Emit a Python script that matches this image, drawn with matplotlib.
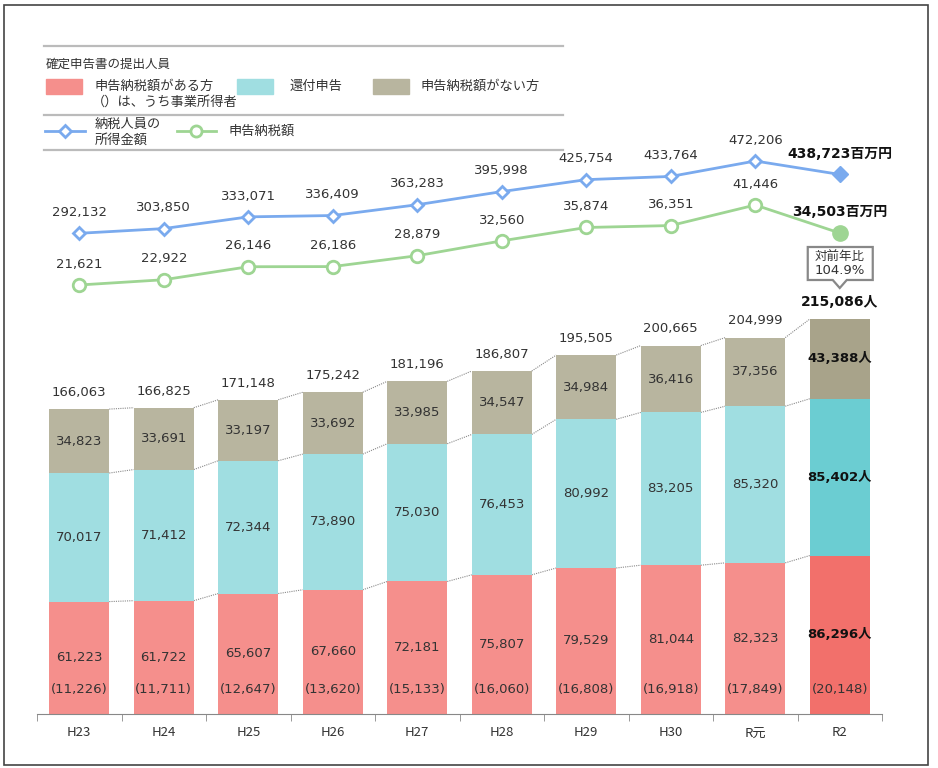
import matplotlib
matplotlib.use("Agg")
import matplotlib.pyplot as plt
from matplotlib.patches import Rectangle, Polygon
import numpy as np

# データ（単位：人／百万円）
nendo = ["H23", "H24", "H25", "H26", "H27", "H28", "H29", "H30", "R元", "R2"]
aru_kata = [61223, 61722, 65607, 67660, 72181, 75807, 79529, 81044, 82323, 86296]
jigyo = [11226, 11711, 12647, 13620, 15133, 16060, 16808, 16918, 17849, 20148]
kanpu = [70017, 71412, 72344, 73890, 75030, 76453, 80992, 83205, 85320, 85402]
nai_kata = [34823, 33691, 33197, 33692, 33985, 34547, 34984, 36416, 37356, 43388]
goukei = [166063, 166825, 171148, 175242, 181196, 186807, 195505, 200665, 204999, 215086]
shotoku = [292132, 303850, 333071, 336409, 363283, 395998, 425754, 433764, 472206, 438723]
nozei = [21621, 22922, 26146, 26186, 28879, 32560, 35874, 36351, 41446, 34503]
zennen_hi = "104.9%"

JP = ["Noto Sans CJK JP", "DejaVu Sans"]
NUM = ["DejaVu Sans", "Noto Sans CJK JP"]

W, H = 938, 768
fig = plt.figure(figsize=(W / 100, H / 100), dpi=100)

# 軸の配置（ピクセル）
x_left, x_right = 37, 882
y_base, y_top = 714, 40
pos = [x_left / W, (H - y_base) / H, (x_right - x_left) / W, (y_base - y_top) / H]

n = len(nendo)
x = np.arange(n)
w = 0.71

c_pink = ["#F58F8C"] * (n - 1) + ["#F2706B"]
c_cyan = ["#A0DEE1"] * (n - 1) + ["#6BCDD2"]
c_gray = ["#B8B59F"] * (n - 1) + ["#A8A38A"]

ax = fig.add_axes(pos)
bar_scale = 1.836 / 1000  # px per person
ax.set_ylim(0, (y_base - y_top) / bar_scale)
ax.set_xlim(-0.5, n - 0.5)

b1 = np.array(aru_kata)
b2 = b1 + np.array(kanpu)
b3 = b2 + np.array(nai_kata)
ax.bar(x, aru_kata, w, color=c_pink, zorder=2)
ax.bar(x, kanpu, w, bottom=b1, color=c_cyan, zorder=2)
ax.bar(x, nai_kata, w, bottom=b2, color=c_gray, zorder=2)

# 点線の連結
for i in range(n - 1):
    for cum in (b1, b2, b3):
        ax.plot([i + w / 2, i + 1 - w / 2], [cum[i], cum[i + 1]], ls=(0, (1, 1)),
                color="#8A8A8A", lw=0.8, zorder=1)

# 棒のラベル
for i in range(n):
    last = i == n - 1
    kw = dict(ha="center", va="center", fontsize=9.5, family=NUM,
              color="#111111" if last else "#333333",
              fontweight="bold" if last else "normal")
    suf = "人" if last else ""
    ax.text(x[i], aru_kata[i] / 2, f"{aru_kata[i]:,}{suf}", **kw)
    ax.text(x[i], b1[i] + kanpu[i] / 2, f"{kanpu[i]:,}{suf}", **kw)
    ax.text(x[i], b2[i] + nai_kata[i] / 2, f"{nai_kata[i]:,}{suf}", **kw)
    ax.annotate(f"({jigyo[i]:,})", (x[i], 0), xytext=(0, 18), textcoords="offset points",
                ha="center", va="center", fontsize=9.5, family=NUM, color="#333333")
    ax.annotate(f"{goukei[i]:,}{suf}", (x[i], goukei[i]), xytext=(0, 12),
                textcoords="offset points", ha="center", va="center",
                fontsize=10 if last else 9.5, family=NUM,
                color="#111111" if last else "#333333",
                fontweight="bold" if last else "normal")

for s in ["top", "right", "left"]:
    ax.spines[s].set_visible(False)
ax.spines["bottom"].set_color("#888888")
ax.set_yticks([])
ax.set_xticks(x)
ax.set_xticklabels(nendo, family=JP, fontsize=9.5, color="#333333")
ax.tick_params(axis="x", which="major", length=0, pad=9)
ax.set_xticks(np.arange(-0.5, n, 1), minor=True)
ax.tick_params(axis="x", which="minor", length=5, color="#888888", direction="out")


def line_axes(v_ref, y_ref, scale):
    a = fig.add_axes(pos, sharex=ax)
    a.set_ylim(v_ref - (y_base - y_ref) / scale, v_ref + (y_ref - y_top) / scale)
    a.axis("off")
    a.patch.set_visible(False)
    return a


# 納税人員の所得金額
ax_b = line_axes(472206, 161, 0.4015 / 1000)
ax_b.plot(x[:-1], shotoku[:-1], color="#7AAAEE", lw=2, marker="D", ms=6.5,
          mfc="white", mec="#7AAAEE", mew=2, zorder=3)
ax_b.plot(x[-2:], shotoku[-2:], color="#7AAAEE", lw=2, zorder=2)
ax_b.plot(x[-1], shotoku[-1], marker="D", ms=8, color="#7AAAEE", zorder=3)

# 申告納税額
ax_g = line_axes(41446, 205, 4.035 / 1000)
ax_g.plot(x[:-1], nozei[:-1], color="#9ED593", lw=2, marker="o", ms=9,
          mfc="white", mec="#9ED593", mew=2, zorder=3)
ax_g.plot(x[-2:], nozei[-2:], color="#9ED593", lw=2, zorder=2)
ax_g.plot(x[-1], nozei[-1], marker="o", ms=11, color="#9ED593", zorder=3)

for a, vals in ((ax_b, shotoku), (ax_g, nozei)):
    for i, v in enumerate(vals):
        last = i == n - 1
        a.annotate(f"{v:,}百万円" if last else f"{v:,}", (x[i], v), xytext=(0, 15),
                   textcoords="offset points", ha="center", va="center",
                   fontsize=10 if last else 9.5, family=NUM,
                   color="#111111" if last else "#333333",
                   fontweight="bold" if last else "normal")

# 凡例・枠（ピクセル座標）
ov = fig.add_axes([0, 0, 1, 1])
ov.set_xlim(0, W)
ov.set_ylim(H, 0)
ov.axis("off")
ov.patch.set_visible(False)

ov.add_patch(Rectangle((4, 5), 924, 760, fill=False, ec="#444444", lw=1.2))
for yy in (46, 115, 150):
    ov.plot([44, 563], [yy, yy], color="#BBBBBB", lw=1.6)
ov.text(46, 64, "確定申告書の提出人員", family=JP, fontsize=9, va="center", color="#333333")
ov.add_patch(Rectangle((46, 79), 36, 15, color="#F58F8C"))
ov.text(95, 86, "申告納税額がある方", family=JP, fontsize=9.5, va="center", color="#333333")
ov.text(92, 102, "（）は、うち事業所得者", family=JP, fontsize=9.5, va="center", color="#333333")
ov.add_patch(Rectangle((237, 79), 36, 15, color="#A0DEE1"))
ov.text(290, 86, "還付申告", family=JP, fontsize=9.5, va="center", color="#333333")
ov.add_patch(Rectangle((373, 79), 36, 15, color="#B8B59F"))
ov.text(420, 86, "申告納税額がない方", family=JP, fontsize=9.5, va="center", color="#333333")
ov.plot([45, 85], [131, 131], color="#7AAAEE", lw=2)
ov.plot([65], [131], marker="D", ms=6, mfc="white", mec="#7AAAEE", mew=2)
ov.text(95, 124, "納税人員の", family=JP, fontsize=9.5, va="center", color="#333333")
ov.text(95, 140, "所得金額", family=JP, fontsize=9.5, va="center", color="#333333")
ov.plot([177, 216], [131, 131], color="#9ED593", lw=2)
ov.plot([196], [131], marker="o", ms=8, mfc="white", mec="#9ED593", mew=2)
ov.text(228, 131, "申告納税額", family=JP, fontsize=9.5, va="center", color="#333333")

# 対前年比の吹き出し
cx = x_left + (x_right - x_left) * (n - 0.5) / n
bx0, bx1, by0, by1 = cx - 32, cx + 33, 247, 280
ov.add_patch(Polygon([(bx0, by0), (bx1, by0), (bx1, by1), (cx + 7, by1), (cx, by1 + 8),
                      (cx - 7, by1), (bx0, by1)], closed=True, fc="white",
                     ec="#888888", lw=1.6))
ov.text(cx, 256, "対前年比", family=JP, fontsize=9, ha="center", va="center", color="#333333")
ov.text(cx, 271, zennen_hi, family=NUM, fontsize=9.5, ha="center", va="center", color="#333333")

fig.savefig("out.png", dpi=100)
